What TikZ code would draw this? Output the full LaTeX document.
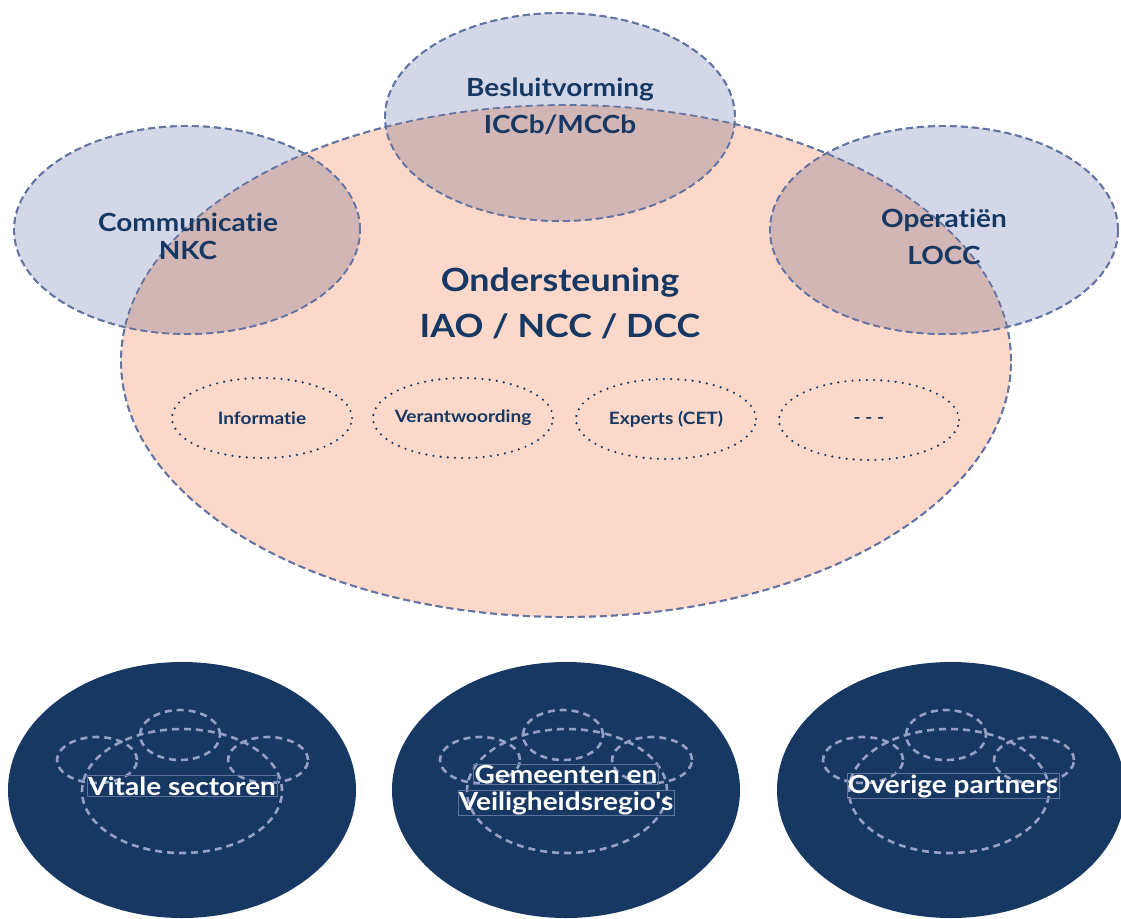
\documentclass[tikz,border=0pt]{standalone}
\usepackage{fontspec}
\setmainfont{Lato}[Ligatures={NoCommon,TeXOff}, FakeStretch=1.12]
\usetikzlibrary{shapes.geometric}

\definecolor{peach}{RGB}{251,216,201}
\definecolor{haze}{RGB}{211,215,231}
\definecolor{blend}{RGB}{209,182,181}
\definecolor{rim}{RGB}{100,116,162}
\definecolor{navy}{RGB}{22,56,99}
\definecolor{ghost}{RGB}{150,160,196}
\definecolor{frame}{RGB}{95,115,155}

\tikzset{
	zone/.style={ellipse, inner sep=0pt, draw=rim, line width=1.8pt, dash pattern=on 7pt off 4pt},
	task/.style={ellipse, inner sep=0pt, minimum width=180pt, minimum height=80pt, draw=navy, line width=2.4pt, line cap=round, dash pattern=on 0pt off 7.2pt},
	party/.style={ellipse, inner sep=0pt, minimum width=348pt, minimum height=256pt, fill=navy},
	mini/.style={ellipse, inner sep=0pt, draw=ghost, line width=2.6pt, dash pattern=on 7pt off 5pt},
	head/.style={text=navy, font=\bfseries\fontsize{25}{37}\selectfont, align=center},
	sub/.style={text=navy, font=\bfseries\fontsize{17}{20}\selectfont},
	tag/.style={text=white, font=\bfseries\fontsize{25}{27}\selectfont, draw=frame, line width=0.5pt, inner sep=1pt}
}

\begin{document}
\begin{tikzpicture}[x=1pt, y=-1pt]
	\useasboundingbox (0,0) rectangle (1121,918);
	% centre ring and its three neighbours
	\node[zone, fill=peach, minimum width=890pt, minimum height=512pt] (ond) at (566,361) {};
	\node[zone, fill=haze, minimum width=350pt, minimum height=208pt] (bes) at (560,117) {};
	\node[zone, fill=haze, minimum width=346pt, minimum height=208pt] (com) at (187,230) {};
	\node[zone, fill=haze, minimum width=348pt, minimum height=208pt] (ope) at (944,230) {};
	\begin{scope}
		\clip (ond.center) ellipse [x radius=445pt, y radius=256pt];
		\fill[blend] (bes.center) ellipse [x radius=175pt, y radius=104pt];
		\fill[blend] (com.center) ellipse [x radius=173pt, y radius=104pt];
		\fill[blend] (ope.center) ellipse [x radius=174pt, y radius=104pt];
	\end{scope}
	\draw[zone] (ond.center) ellipse [x radius=445pt, y radius=256pt];
	\draw[zone] (bes.center) ellipse [x radius=175pt, y radius=104pt];
	\draw[zone] (com.center) ellipse [x radius=173pt, y radius=104pt];
	\draw[zone] (ope.center) ellipse [x radius=174pt, y radius=104pt];

	\node[head] (bes-t) at (560,106) {Besluitvorming\\ICCb/MCCb};
	\node[head, font=\bfseries\fontsize{25}{28}\selectfont] (com-t) at (188,236) {Communicatie\\NKC};
	\node[head] (ope-t) at (944,237) {Operatiën\\LOCC};
	\node[head, font=\bfseries\fontsize{32}{46}\selectfont] (ond-t) at (560,303) {Ondersteuning\\IAO / NCC / DCC};

	% support tasks
	\node[task] (inf) at (262,418) {};
	\node[task] (ver) at (463,418) {};
	\node[task] (exp) at (666,419) {};
	\node[task] (etc) at (869,420) {};
	\node[sub] at (inf) {Informatie};
	\node[sub] at (ver) {Verantwoording};
	\node[sub] at (exp) {Experts (CET)};
	\node[sub] at (etc) {- - -};

	% partners
	\node[party] (vit) at (182,790) {};
	\node[party] (gem) at (566,790) {};
	\node[party] (ove) at (951,790) {};

	\node[mini, minimum width=200pt, minimum height=124pt] (vit-m) at (182,791) {};
	\node[mini, minimum width=80pt, minimum height=50pt] (vit-b) at (180,735) {};
	\node[mini, minimum width=80pt, minimum height=46pt] (vit-c) at (97,760) {};
	\node[mini, minimum width=80pt, minimum height=46pt] (vit-o) at (268,760) {};

	\node[mini, minimum width=200pt, minimum height=124pt] (gem-m) at (567,791) {};
	\node[mini, minimum width=80pt, minimum height=50pt] (gem-b) at (563,735) {};
	\node[mini, minimum width=80pt, minimum height=46pt] (gem-c) at (480,760) {};
	\node[mini, minimum width=80pt, minimum height=46pt] (gem-o) at (652,760) {};

	\node[mini, minimum width=200pt, minimum height=124pt] (ove-m) at (949,791) {};
	\node[mini, minimum width=80pt, minimum height=50pt] (ove-b) at (946,735) {};
	\node[mini, minimum width=80pt, minimum height=46pt] (ove-c) at (863,760) {};
	\node[mini, minimum width=80pt, minimum height=46pt] (ove-o) at (1034,760) {};

	\node[tag] (vit-t) at (182,786) {Vitale sectoren};
	\node[tag] (gem-t1) at (566,774) {Gemeenten en};
	\node[tag] (gem-t2) at (566,803) {Veiligheidsregio's};
	\node[tag] (ove-t) at (953,786) {Overige partners};
\end{tikzpicture}
\end{document}
